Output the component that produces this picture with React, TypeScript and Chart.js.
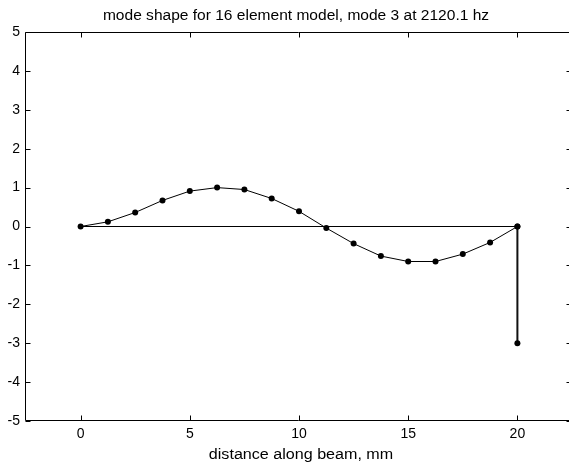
import React, { useEffect, useRef } from "react";
import { Chart, registerables } from "chart.js";

Chart.register(...registerables);

const titleText = "mode shape for 16 element model, mode 3 at 2120.1 hz";
const xLabel = "distance along beam, mm";

const nodeX = [0, 1.25, 2.5, 3.75, 5, 6.25, 7.5, 8.75, 10, 11.25, 12.5, 13.75, 15, 16.25, 17.5, 18.75, 20];
const modeY = [0, 0.12, 0.36, 0.67, 0.91, 1.0, 0.95, 0.72, 0.39, -0.04, -0.44, -0.76, -0.9, -0.9, -0.71, -0.41, 0];

const baseX = [0, 20];
const baseY = [0, 0];

const tipX = [20, 20];
const tipY = [0, -3];

const xTicks = [0, 5, 10, 15, 20];
const yTicks = [-5, -4, -3, -2, -1, 0, 1, 2, 3, 4, 5];

const FONT = "'Liberation Sans', Arial, Helvetica, sans-serif";

const toPts = (xs: number[], ys: number[]) => xs.map((x, i) => ({ x, y: ys[i] }));

const framePlugin = {
  id: "frame",
  afterDatasetsDraw(chart: any) {
    const { ctx, chartArea } = chart;
    const xs = chart.scales.x;
    const ys = chart.scales.y;
    const l = chartArea.left - 0.5;
    const r = chartArea.right - 0.5;
    const t = chartArea.top + 0.5;
    const b = chartArea.bottom - 0.5;
    ctx.save();
    ctx.strokeStyle = "#000";
    ctx.lineWidth = 1;
    ctx.beginPath();
    ctx.rect(l, t, r - l, b - t);
    const tl = 5;
    xTicks.forEach((v) => {
      const px = Math.round(xs.getPixelForValue(v)) + 0.5;
      ctx.moveTo(px, b);
      ctx.lineTo(px, b - tl);
      ctx.moveTo(px, t);
      ctx.lineTo(px, t + tl);
    });
    yTicks.forEach((v) => {
      const py = Math.round(ys.getPixelForValue(v)) + 0.5;
      ctx.moveTo(l, py);
      ctx.lineTo(l + tl, py);
      ctx.moveTo(r, py);
      ctx.lineTo(r - tl, py);
    });
    ctx.stroke();

    const cx = (chartArea.left + chartArea.right) / 2;
    ctx.fillStyle = "#000";
    ctx.font = `14px ${FONT}`;
    ctx.textAlign = "center";
    ctx.textBaseline = "alphabetic";
    ctx.save();
    ctx.translate(cx - 3, 20);
    ctx.scale(1.11, 1);
    ctx.fillText(titleText, 0, 0);
    ctx.restore();
    ctx.save();
    ctx.translate(cx + 2, 459);
    ctx.scale(1.15, 1);
    ctx.fillText(xLabel, 0, 0);
    ctx.restore();
    ctx.restore();
  },
};

export default function App() {
  const ref = useRef<HTMLCanvasElement | null>(null);
  useEffect(() => {
    if (!ref.current) return;
    const chart = new Chart(ref.current, {
      type: "scatter",
      data: {
        datasets: [
          {
            data: toPts(baseX, baseY),
            showLine: true,
            borderColor: "#000",
            borderWidth: 1,
            pointRadius: 0,
          },
          {
            data: toPts(nodeX, modeY),
            showLine: true,
            borderColor: "#000",
            backgroundColor: "#000",
            borderWidth: 1,
            pointRadius: 3,
            pointBorderWidth: 0,
          },
          {
            data: toPts(tipX, tipY),
            showLine: true,
            borderColor: "#111",
            backgroundColor: "#000",
            borderWidth: 2,
            pointRadius: 3,
            pointBorderWidth: 0,
          },
        ],
      },
      plugins: [framePlugin],
      options: {
        animation: false,
        responsive: false,
        devicePixelRatio: 1,
        layout: { autoPadding: false, padding: { left: 0, right: 0, top: 32, bottom: 0 } },
        plugins: {
          legend: { display: false },
          tooltip: { enabled: false },
          title: { display: false },
        },
        scales: {
          x: {
            type: "linear",
            min: -2.5,
            max: 22.5,
            afterBuildTicks: (s: any) => {
              s.ticks = xTicks.map((v) => ({ value: v }));
            },
            afterFit: (s: any) => {
              s.height = 45;
              s.paddingLeft = 0;
              s.paddingRight = 0;
            },
            grid: { display: false, drawTicks: false },
            border: { display: false },
            ticks: {
              color: "#000",
              padding: 5,
              maxRotation: 0,
              autoSkip: false,
              font: { family: FONT, size: 14 },
            },
          },
          y: {
            type: "linear",
            min: -5,
            max: 5,
            afterBuildTicks: (s: any) => {
              s.ticks = yTicks.map((v) => ({ value: v }));
            },
            afterFit: (s: any) => {
              s.width = 26;
              s.paddingTop = 0;
              s.paddingBottom = 0;
            },
            grid: { display: false, drawTicks: false },
            border: { display: false },
            ticks: {
              color: "#000",
              padding: 6,
              autoSkip: false,
              font: { family: FONT, size: 14 },
            },
          },
        },
      },
    });
    return () => chart.destroy();
  }, []);
  return (
    <div style={{ position: "fixed", left: 0, top: 0, width: 569, height: 466, background: "#fff", overflow: "hidden" }}>
      <canvas ref={ref} width={572} height={466} style={{ display: "block" }} />
    </div>
  );
}
